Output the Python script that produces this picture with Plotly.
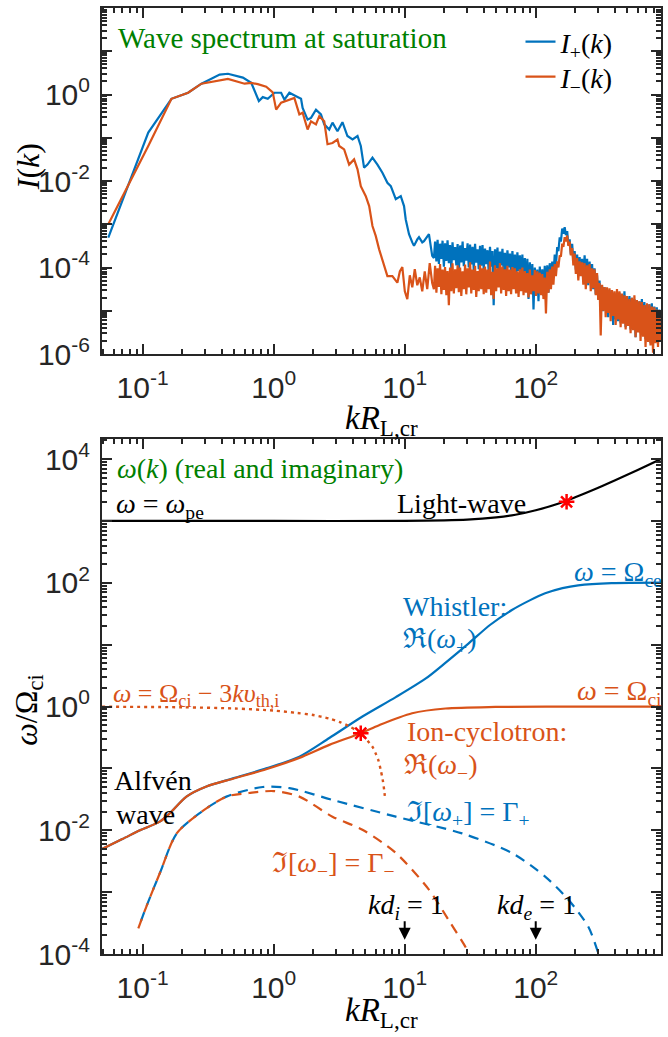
import plotly.graph_objects as go

# ---------------- top panel: saturated wave spectrum ----------------
# wavenumbers and intensities are given as log10 values
lk_plus_head = [-1.262, -0.957, -0.780, -0.653, -0.551, -0.412, -0.349, -0.235, -0.171, -0.113,
                -0.083, -0.045, 0.006, 0.057, 0.082, 0.120, 0.171, 0.209, 0.221, 0.259,
                0.285, 0.323, 0.361, 0.386, 0.424, 0.449, 0.487, 0.525, 0.563, 0.602,
                0.640, 0.665, 0.690, 0.716, 0.754, 0.792, 0.830, 0.868, 0.894, 0.932,
                0.970, 0.995, 1.008, 1.033, 1.058, 1.071, 1.096, 1.109, 1.134, 1.147,
                1.185, 1.210]
li_plus_head = [-3.31, -0.88, -0.10, 0.04, 0.25, 0.46, 0.48, 0.39, 0.27, -0.15,
                -0.06, -0.10, 0.04, 0.04, -0.12, 0.04, -0.04, -0.10, -0.31, -0.58,
                -0.54, -0.35, -0.46, -0.69, -0.81, -0.65, -0.85, -0.64, -0.96, -1.04,
                -0.96, -1.19, -1.69, -1.62, -1.46, -1.62, -1.81, -2.04, -2.12, -2.42,
                -2.35, -2.58, -2.89, -3.23, -3.42, -3.50, -3.35, -3.30, -3.42, -3.39,
                -3.23, -3.73]

lk_minus_head = [-1.262, -0.957, -0.780, -0.653, -0.551, -0.349, -0.222, -0.171, -0.121, -0.057,
                 -0.007, 0.019, 0.057, 0.095, 0.158, 0.196, 0.221, 0.259, 0.285, 0.323,
                 0.348, 0.386, 0.411, 0.449, 0.487, 0.500, 0.538, 0.576, 0.614, 0.640,
                 0.665, 0.703, 0.729, 0.754, 0.779, 0.805, 0.843, 0.868, 0.906, 0.944,
                 0.963, 0.982, 1.001, 1.020, 1.039, 1.058, 1.077, 1.096, 1.115, 1.134,
                 1.153, 1.172, 1.191, 1.210]
li_minus_head = [-3.00, -1.19, -0.10, 0.04, 0.25, 0.36, 0.25, 0.27, 0.24, 0.18,
                 0.05, -0.35, -0.19, -0.15, -0.08, -0.46, -0.42, -0.81, -0.62, -0.69,
                 -0.50, -0.62, -1.15, -1.12, -1.04, -1.19, -1.27, -1.62, -1.50, -1.73,
                 -2.12, -2.35, -2.58, -3.04, -3.27, -3.58, -3.97, -4.20, -4.20, -4.35,
                 -4.09, -3.99, -4.55, -4.73, -4.18, -4.46, -4.04, -4.41, -4.23, -4.55,
                 -4.09, -4.50, -3.90, -4.36]

# noisy high-k tail (shared wavenumber samples, log10 k)
lk_tail = [1.223, 1.232, 1.242, 1.251, 1.261, 1.270, 1.280, 1.289, 1.299, 1.308,
           1.318, 1.327, 1.337, 1.346, 1.356, 1.365, 1.375, 1.385, 1.394, 1.404,
           1.413, 1.423, 1.432, 1.442, 1.451, 1.461, 1.470, 1.480, 1.489, 1.499,
           1.508, 1.518, 1.527, 1.537, 1.546, 1.556, 1.565, 1.575, 1.584, 1.594,
           1.603, 1.613, 1.622, 1.632, 1.641, 1.651, 1.660, 1.670, 1.679, 1.689,
           1.698, 1.708, 1.717, 1.727, 1.736, 1.746, 1.755, 1.765, 1.774, 1.784,
           1.793, 1.803, 1.812, 1.822, 1.831, 1.841, 1.850, 1.860, 1.869, 1.879,
           1.888, 1.898, 1.907, 1.917, 1.926, 1.936, 1.945, 1.955, 1.964, 1.974,
           1.983, 1.993, 2.002, 2.012, 2.021, 2.031, 2.040, 2.050, 2.059, 2.069,
           2.078, 2.088, 2.097, 2.107, 2.116, 2.126, 2.135, 2.145, 2.154, 2.164,
           2.173, 2.183, 2.192, 2.202, 2.211, 2.221, 2.230, 2.240, 2.249, 2.259,
           2.268, 2.278, 2.287, 2.297, 2.306, 2.316, 2.325, 2.335, 2.344, 2.354,
           2.363, 2.373, 2.382, 2.392, 2.401, 2.411, 2.420, 2.430, 2.439, 2.449,
           2.458, 2.468, 2.477, 2.487, 2.496, 2.506, 2.515, 2.525, 2.534, 2.544,
           2.553, 2.563, 2.572, 2.582, 2.591, 2.601, 2.610, 2.620, 2.629, 2.639,
           2.648, 2.658, 2.667, 2.677, 2.686, 2.696, 2.705, 2.715, 2.724, 2.734,
           2.743, 2.753, 2.762, 2.772, 2.781, 2.791, 2.800, 2.810, 2.819, 2.829,
           2.838, 2.848, 2.857, 2.867, 2.876, 2.886, 2.895, 2.905, 2.914, 2.924,
           2.933, 2.943, 2.952]
li_plus_tail = [-3.78, -3.40, -3.86, -3.36, -3.92, -3.45, -3.80, -3.38, -3.98, -3.44,
                -3.85, -3.37, -3.90, -3.48, -4.02, -3.42, -3.83, -3.53, -3.95, -3.46,
                -4.09, -3.49, -3.88, -3.40, -3.97, -3.55, -3.84, -3.44, -4.00, -3.47,
                -3.93, -3.52, -4.06, -3.45, -3.89, -3.58, -4.04, -3.50, -3.96, -3.48,
                -4.05, -3.56, -3.92, -3.60, -4.10, -3.52, -3.98, -3.62, -4.87, -3.58,
                -4.02, -3.54, -4.12, -3.63, -3.95, -3.57, -4.08, -3.66, -4.15, -3.60,
                -4.00, -3.68, -4.13, -3.62, -4.05, -3.70, -4.18, -3.65, -4.08, -3.72,
                -4.22, -3.70, -4.30, -3.78, -4.45, -3.80, -4.73, -3.88, -4.50, -3.92,
                -4.97, -4.00, -4.62, -4.05, -4.78, -3.98, -4.55, -4.04, -4.66, -3.96,
                -4.50, -3.95, -4.58, -3.90, -4.40, -3.86, -4.20, -3.70, -3.95, -3.53,
                -3.62, -3.30, -3.40, -3.10, -3.22, -3.07, -3.25, -3.16, -3.48, -3.35,
                -3.70, -3.45, -3.86, -3.62, -4.05, -3.70, -4.18, -3.76, -4.10, -3.80,
                -4.32, -3.72, -4.20, -3.80, -4.41, -3.86, -4.35, -3.92, -4.50, -4.02,
                -4.62, -4.18, -4.73, -4.30, -4.85, -4.41, -5.01, -4.45, -4.95, -4.50,
                -5.15, -4.52, -5.05, -4.55, -5.33, -4.60, -5.20, -4.62, -5.24, -4.58,
                -5.29, -4.64, -5.18, -4.55, -5.38, -4.69, -5.30, -4.66, -5.43, -4.70,
                -5.36, -4.73, -5.61, -4.76, -5.45, -4.78, -5.52, -4.73, -5.58, -4.80,
                -5.66, -4.87, -5.55, -4.85, -5.75, -4.83, -5.62, -4.90, -5.70, -4.92,
                -5.66, -4.97, -5.60]
li_minus_tail = [-4.50, -3.96, -4.58, -4.02, -4.45, -3.92, -4.62, -4.05, -4.52, -3.99,
                 -4.64, -4.08, -4.87, -4.00, -4.55, -3.90, -4.60, -4.04, -4.48, -3.95,
                 -4.57, -4.00, -4.66, -4.09, -4.50, -3.93, -4.62, -4.02, -4.46, -3.88,
                 -4.60, -4.05, -4.52, -3.96, -4.68, -4.08, -4.55, -3.94, -4.50, -4.02,
                 -4.62, -3.98, -4.58, -4.05, -4.50, -3.86, -4.64, -4.10, -4.73, -3.95,
                 -4.55, -4.02, -4.46, -3.90, -4.60, -3.98, -4.52, -4.04, -4.66, -3.96,
                 -4.55, -4.05, -4.62, -3.99, -4.50, -4.02, -4.60, -4.09, -4.68, -4.04,
                 -4.55, -4.00, -4.64, -4.08, -4.58, -4.13, -4.69, -4.05, -4.62, -4.18,
                 -4.55, -4.06, -4.66, -4.09, -4.60, -4.12, -4.64, -4.15, -4.73, -4.23,
                 -5.06, -4.10, -4.58, -4.04, -4.50, -3.98, -4.40, -3.92, -4.20, -3.86,
                 -4.00, -3.72, -3.75, -3.45, -3.52, -3.30, -3.40, -3.26, -3.50, -3.40,
                 -3.72, -3.55, -3.95, -3.68, -4.15, -3.78, -4.30, -3.86, -4.20, -3.88,
                 -4.40, -3.90, -4.50, -3.95, -4.36, -3.92, -4.55, -4.02, -4.48, -4.04,
                 -4.64, -4.13, -4.75, -4.36, -5.57, -4.40, -5.00, -4.45, -5.15, -4.46,
                 -5.05, -4.48, -5.24, -4.52, -5.12, -4.55, -5.33, -4.50, -5.20, -4.55,
                 -5.38, -4.60, -5.30, -4.64, -5.43, -4.66, -5.35, -4.73, -5.52, -4.70,
                 -5.45, -4.64, -5.61, -4.75, -5.50, -4.78, -5.70, -4.80, -5.60, -4.87,
                 -5.84, -4.83, -5.72, -4.85, -5.80, -4.90, -5.97, -4.92, -5.75, -4.97,
                 -5.84, -5.05, -5.70]

k_plus = [10 ** v for v in lk_plus_head + lk_tail]
I_plus = [10 ** v for v in li_plus_head + li_plus_tail]
k_minus = [10 ** v for v in lk_minus_head + lk_tail]
I_minus = [10 ** v for v in li_minus_head + li_minus_tail]

# ---------------- bottom panel: dispersion relations ----------------
k_light = [0.049, 1, 10, 30, 50, 70, 100, 150, 200, 300, 400, 600, 920]
w_light = [1000, 1000, 1006, 1050, 1140, 1260, 1490, 1920, 2420, 3450, 4510, 6680, 10200]

k_whistler = [0.049, 0.07, 0.0955, 0.135, 0.162, 0.216, 0.307, 0.489, 0.877, 1.57,
              2.66, 4.76, 8.55, 14.5, 20, 30.8, 45, 65.8, 90, 118, 160, 211, 379, 920]
w_whistler = [0.0050, 0.0072, 0.010, 0.0138, 0.019, 0.035, 0.051, 0.069, 0.100, 0.155,
              0.31, 0.69, 1.42, 2.85, 4.9, 10.5, 21, 36.3, 52, 67.6, 82, 91.2, 99, 101]

k_ioncyc = [0.049, 0.07, 0.0955, 0.135, 0.162, 0.216, 0.307, 0.489, 0.877, 1.57,
            2.66, 4.62, 6.38, 11.4, 20.5, 49.2, 150, 920]
w_ioncyc = [0.0050, 0.0072, 0.010, 0.0138, 0.019, 0.035, 0.051, 0.068, 0.097, 0.148,
            0.24, 0.37, 0.50, 0.78, 0.93, 0.985, 0.998, 1.0]

k_thermal = [0.049, 0.2, 0.5, 1.0, 1.5, 2.0, 2.65, 3.2, 3.77, 4.3,
             4.62, 5.0, 5.36, 5.7, 6.0, 6.3, 6.56, 6.8, 6.97, 7.08]
w_thermal = [0.993, 0.973, 0.93, 0.86, 0.79, 0.73, 0.64, 0.56, 0.48, 0.41,
             0.37, 0.31, 0.26, 0.22, 0.175, 0.135, 0.095, 0.065, 0.045, 0.033]

k_gplus = [0.0927, 0.107, 0.135, 0.182, 0.273, 0.436, 0.826, 1.32, 2.81, 8.55,
           27.4, 65.8, 118, 177, 252, 301, 320]
g_plus = [2.6e-4, 5.9e-4, 2.0e-3, 8.9e-3, 0.019, 0.035, 0.050, 0.048, 0.031, 0.0166,
          8.9e-3, 4.3e-3, 1.78e-3, 7.6e-4, 2.75e-4, 1.02e-4, 7e-5]

k_gminus = [0.0927, 0.107, 0.135, 0.182, 0.273, 0.436, 0.65, 1.0, 1.57, 2.81,
            4.76, 8.55, 15.3, 21.7, 29.1, 30.8, 32]
g_minus = [2.6e-4, 5.9e-4, 2.0e-3, 8.9e-3, 0.019, 0.035, 0.040, 0.043, 0.035, 0.0166,
           0.0102, 4.3e-3, 1.1e-3, 3.5e-4, 1.3e-4, 1.02e-4, 8e-5]

k_star = [172, 4.62]
w_star = [2040, 0.37]

# ---------------- styling ----------------
BLUE = "#0072BD"
ORANGE = "#D95319"
GREEN = "#008000"
AXC = "#262626"
SERIF = "Liberation Serif"
SANS = "Liberation Sans"

W, H = 668, 1037
ML, MR, MT, MB = 102, 5, 8, 83
PW = W - ML - MR
PH = H - MT - MB


def paper(xp, yp):
    return (xp - ML) / PW, (H - MB - yp) / PH


fig = go.Figure()

fig.add_trace(go.Scatter(x=k_plus, y=I_plus, mode="lines", line=dict(color=BLUE, width=2.2),
                         name="<i>I</i><sub>+</sub>(<i>k</i>)", xaxis="x", yaxis="y", legend="legend"))
fig.add_trace(go.Scatter(x=k_minus, y=I_minus, mode="lines", line=dict(color=ORANGE, width=2.2),
                         name="<i>I</i><sub>−</sub>(<i>k</i>)", xaxis="x", yaxis="y", legend="legend2"))

bot = dict(xaxis="x2", yaxis="y2", showlegend=False, mode="lines")
fig.add_trace(go.Scatter(x=k_light, y=w_light, line=dict(color="black", width=2.2, shape="spline", smoothing=0.8), **bot))
fig.add_trace(go.Scatter(x=k_whistler, y=w_whistler, line=dict(color=BLUE, width=2.2, shape="spline", smoothing=0.8), **bot))
fig.add_trace(go.Scatter(x=k_ioncyc, y=w_ioncyc, line=dict(color=ORANGE, width=2.2, shape="spline", smoothing=0.8), **bot))
fig.add_trace(go.Scatter(x=k_thermal, y=w_thermal, line=dict(color=ORANGE, width=2.4, dash="3px,4px", shape="spline", smoothing=0.8), **bot))
fig.add_trace(go.Scatter(x=k_gplus, y=g_plus, line=dict(color=BLUE, width=2.2, dash="0px,7px,10px,0px", shape="spline", smoothing=0.8), **bot))
fig.add_trace(go.Scatter(x=k_gminus, y=g_minus, line=dict(color=ORANGE, width=2.2, dash="10px,7px", shape="spline", smoothing=0.8), **bot))
fig.add_trace(go.Scatter(x=k_star, y=w_star, mode="markers", xaxis="x2", yaxis="y2", showlegend=False,
                         marker=dict(symbol="asterisk", size=13, color="red", line=dict(color="red", width=2.5))))


def sup(e):
    return "10<sup>%d</sup>" % e


def minor_vals(lo, hi):
    return [m * 10.0 ** e for e in range(lo, hi + 1) for m in range(2, 10)]


def log_axis(rng, exps, labelled, minors, **kw):
    vals = [10.0 ** e for e in exps]
    txt = [sup(e) if e in labelled else "" for e in exps]
    d = dict(type="log", range=rng, tickmode="array", tickvals=vals, ticktext=txt,
             ticks="inside", ticklen=10, tickwidth=2, tickcolor=AXC,
             showline=True, linewidth=2, linecolor=AXC, mirror="allticks",
             showgrid=False, zeroline=False,
             tickfont=dict(family=SANS, size=30, color=AXC),
             minor=dict(tickmode="array", tickvals=minors, ticks="inside", ticklen=5,
                        tickwidth=1.5, tickcolor=AXC, showgrid=False))
    d.update(kw)
    return d


xr = [-1.31, 2.956]
x_exps = [-1, 0, 1, 2]
x_minor = [v for v in minor_vals(-2, 2) if 0.049 <= v <= 905]

leg = dict(xanchor="left", yanchor="middle", font=dict(family=SERIF, size=28, color="black"),
           bgcolor="rgba(0,0,0,0)", borderwidth=0)

fig.update_layout(
    width=W, height=H,
    margin=dict(l=ML, r=MR, t=MT, b=MB),
    paper_bgcolor="white", plot_bgcolor="white",
    xaxis=log_axis(xr, x_exps, x_exps, x_minor, anchor="y", ticklabelstandoff=6),
    yaxis=log_axis([-6, 2], list(range(-6, 3)), [-6, -4, -2, 0], minor_vals(-6, 1),
                   anchor="x", domain=[(H - MB - 354) / PH, 1.0], ticklabelstandoff=4),
    xaxis2=log_axis(xr, x_exps, x_exps, x_minor, anchor="y2", ticklabelstandoff=6),
    yaxis2=log_axis([-4, 4.32], list(range(-4, 5)), [-4, -2, 0, 2, 4], minor_vals(-4, 4),
                    anchor="x2", domain=[0.0, (H - MB - 439.3) / PH], ticklabelstandoff=4),
    legend=dict(x=paper(522, 0)[0], y=paper(0, 42)[1], **leg),
    legend2=dict(x=paper(522, 0)[0], y=paper(0, 77)[1], **leg),
    showlegend=True,
)

ann = []


def label(text, xp, yp, color="black", size=28, xanchor="left", yanchor="middle", angle=0):
    x, y = paper(xp, yp)
    ann.append(dict(text=text, x=x, y=y, xref="paper", yref="paper", showarrow=False,
                    xanchor=xanchor, yanchor=yanchor, textangle=angle,
                    font=dict(family=SERIF, size=size, color=color)))


# top panel texts
label("Wave spectrum at saturation", 116, 38, GREEN, 29)
label("<i>I</i>(<i>k</i>)", 28, 167, "black", 32, "center", "middle", -90)
label("<i>kR</i><sub>L,cr</sub>", 383, 420, "black", 33, "center", "middle")

# bottom panel texts
label("<i>ω</i>(<i>k</i>) (real and imaginary)", 115, 469, GREEN, 28)
label("<i>ω</i> = <i>ω</i><sub>pe</sub>", 114, 506, "black", 28)
label("Light-wave", 463, 503, "black", 28, "center")
label("<i>ω</i> = Ω<sub>ce</sub>", 666, 573, BLUE, 28, "right")
label("Whistler:", 402, 606, BLUE, 28)
label("ℜ(<i>ω</i><sub>+</sub>)", 402, 640, BLUE, 28)
label("<i>ω</i> = Ω<sub>ci</sub> − 3<i>kυ</i><sub>th,i</sub>", 111, 695, ORANGE, 26)
label("<i>ω</i> = Ω<sub>ci</sub>", 666, 692, ORANGE, 28, "right")
label("Ion-cyclotron:", 406, 731, ORANGE, 28)
label("ℜ(<i>ω</i><sub>−</sub>)", 403, 766, ORANGE, 28)
label("Alfvén", 112, 780, "black", 28)
label("wave", 114, 814, "black", 28)
label("ℑ[<i>ω</i><sub>+</sub>] = Γ<sub>+</sub>", 406, 813, BLUE, 28)
label("ℑ[<i>ω</i><sub>−</sub>] = Γ<sub>−</sub>", 271, 864, ORANGE, 28)
label("<i>kd<sub>i</sub></i> = 1", 407, 906, "black", 28, "center")
label("<i>kd<sub>e</sub></i> = 1", 538, 906, "black", 28, "center")
label("<i>ω</i>/Ω<sub>ci</sub>", 28, 748, "black", 32, "center", "bottom", -90)
label("<i>kR</i><sub>L,cr</sub>", 383, 1012, "black", 33, "center", "middle")

# arrows marking kd_i = 1 and kd_e = 1
for xv in (1.0, 2.0):
    ann.append(dict(x=xv, y=-3.77, xref="x2", yref="y2", text="", showarrow=True,
                    ax=0, ay=-20, arrowhead=2, arrowsize=1.2, arrowwidth=2, arrowcolor="black"))

fig.update_layout(annotations=ann)

fig.write_html("out.html")
